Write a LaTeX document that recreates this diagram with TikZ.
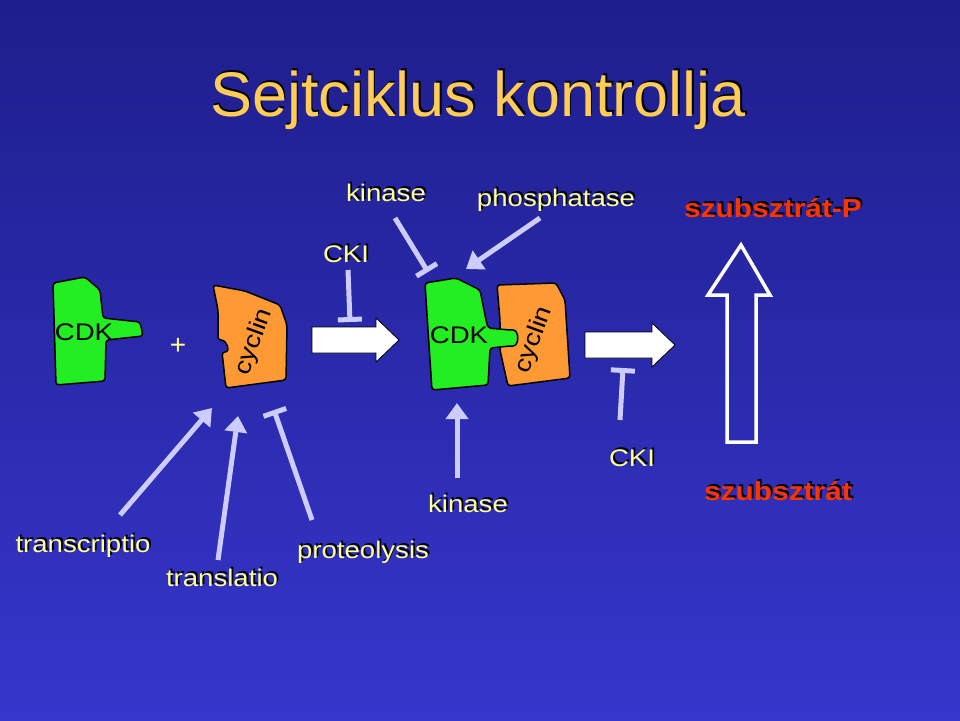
\documentclass[tikz,border=0pt]{standalone}
\usepackage{fontspec}
\setmainfont{Liberation Sans}
\newfontfamily\wide[FakeStretch=1.15]{Liberation Sans}
\usetikzlibrary{arrows.meta}
\definecolor{lav}{HTML}{CCCCFF}
\definecolor{lbl}{HTML}{FFFF99}
\definecolor{ttl}{HTML}{FFCC55}
\definecolor{red2}{HTML}{FF3300}
\definecolor{grn}{HTML}{22EE22}
\definecolor{org}{HTML}{FF9933}
\definecolor{bgtop}{HTML}{1E1E8C}
\definecolor{bgbot}{HTML}{3636CC}
\tikzset{
 ln/.style={lav, line width=5pt},
 act/.style={ln, -{Triangle[length=16pt,width=22pt]}},
 inh/.style={ln, -{Bar[width=24pt,line width=5pt]}},
 blob/.style={draw=black, line width=1.5pt, rounded corners=3pt},
 barrow/.style={fill=white,draw=black,line width=0.8pt},
}
\newcommand{\shtext}[5]{% name, pos, color, font, text
 \node[text=black,font=#4,#2] at ([shift={(1.8pt,1.8pt)}]#1) {#5};
 \node[text=#3,font=#4,#2] at (#1) {#5};}
\newcommand{\lf}{\wide\fontsize{24}{26}\selectfont}
\newcommand{\rf}{\wide\fontsize{26}{28}\selectfont\bfseries}
\begin{document}
\begin{tikzpicture}[x=1pt,y=-1pt]
\shade[top color=bgtop,bottom color=bgbot] (0,0) rectangle (960,720);
\useasboundingbox (0,0) rectangle (960,720);
\coordinate (ptitle) at (478,100);
\coordinate (pkin1) at (386,193);
\coordinate (pphos) at (556,200);
\coordinate (psubP) at (773,208);
\coordinate (pcki1) at (346,254);
\coordinate (ptr) at (83,546);
\coordinate (ptl) at (222,578);
\coordinate (ppr) at (363,552);
\coordinate (pkin2) at (468,504);
\coordinate (pcki2) at (632,458);
\coordinate (psub) at (778,491);
\shtext{ptitle}{}{ttl}{\fontsize{63}{66}\selectfont}{Sejtciklus kontrollja}
\shtext{pkin1}{}{lbl}{\lf}{kinase}
\shtext{pphos}{}{lbl}{\lf}{phosphatase}
\shtext{psubP}{}{red2}{\rf}{szubsztrát-P}
\shtext{pcki1}{}{lbl}{\lf}{CKI}
\shtext{ptr}{}{lbl}{\lf}{transcriptio}
\shtext{ptl}{}{lbl}{\lf}{translatio}
\shtext{ppr}{}{lbl}{\lf}{proteolysis}
\shtext{pkin2}{}{lbl}{\lf}{kinase}
\shtext{pcki2}{}{lbl}{\lf}{CKI}
\shtext{psub}{}{red2}{\rf}{szubsztrát}
% left CDK
\filldraw[blob,fill=grn] (53,283) -- (85,277) -- (100,290) -- (103,318) -- (140,322) -- (143,336) -- (106,340) -- (105,381) -- (56,385) -- cycle;
\node[font=\lf] (cdk1) at (84,332) {CDK};
\node[text=lbl,font=\fontsize{28}{30}\selectfont] (plus) at (178,346) {+};
% left cyclin
\filldraw[blob,fill=org] (213,285) -- (245,291) -- (280,305) -- (287,325) -- (286,380) -- (226,388) -- (222,352) to[out=0,in=0,looseness=1.8] (218,340) -- (218,310) -- cycle;
\node[rotate=70,font=\lf] (cyc1) at (254,342) {cyclin};
% middle cyclin (under CDK)
\filldraw[blob,fill=org] (497,285) -- (556,283) -- (565,300) -- (570,378) -- (508,386) -- (500,350) -- (500,320) -- cycle;
\node[rotate=70,font=\lf] (cyc2) at (534,340) {cyclin};
% middle CDK
\filldraw[blob,fill=grn] (425,283) -- (456,278) -- (480,290) -- (486,320) -- (488,328) -- (510,330) to[out=0,in=0,looseness=1.5] (510,346) -- (490,348) -- (488,385) -- (432,390) -- (428,330) -- cycle;
\node[font=\lf] (cdk2) at (459,335) {CDK};
% block arrows
\filldraw[barrow] (312,327) -- (376,327) -- (376,318) -- (399,340) -- (376,362) -- (376,353) -- (312,353) -- cycle;
\filldraw[barrow] (585,332) -- (652,332) -- (652,323) -- (675,345) -- (652,367) -- (652,358) -- (585,358) -- cycle;
% hollow up arrow
\draw[white,line width=3.5pt,line join=miter] (727,442) -- (727,295) -- (708,295) -- (741,245) -- (770,295) -- (756,295) -- (756,442) -- cycle;
% connectors
\coordinate (s1) at (395,218); \coordinate (e1) at (428,272);
\draw[inh] (s1) -- (e1);
\coordinate (s2) at (540,218); \coordinate (e2) at (466,269);
\draw[act] (s2) -- (e2);
\coordinate (s3) at (348,270); \coordinate (e3) at (350,322);
\draw[inh] (s3) -- (e3);
\coordinate (s4) at (120,515); \coordinate (e4) at (212,408);
\draw[act] (s4) -- (e4);
\coordinate (s5) at (218,560); \coordinate (e5) at (238,416);
\draw[act] (s5) -- (e5);
\coordinate (s6) at (312,520); \coordinate (e6) at (274,410);
\draw[inh] (s6) -- (e6);
\coordinate (s7) at (457,478); \coordinate (e7) at (457,403);
\draw[act] (s7) -- (e7);
\coordinate (s8) at (620,420); \coordinate (e8) at (623,368);
\draw[inh] (s8) -- (e8);
\end{tikzpicture}
\end{document}
